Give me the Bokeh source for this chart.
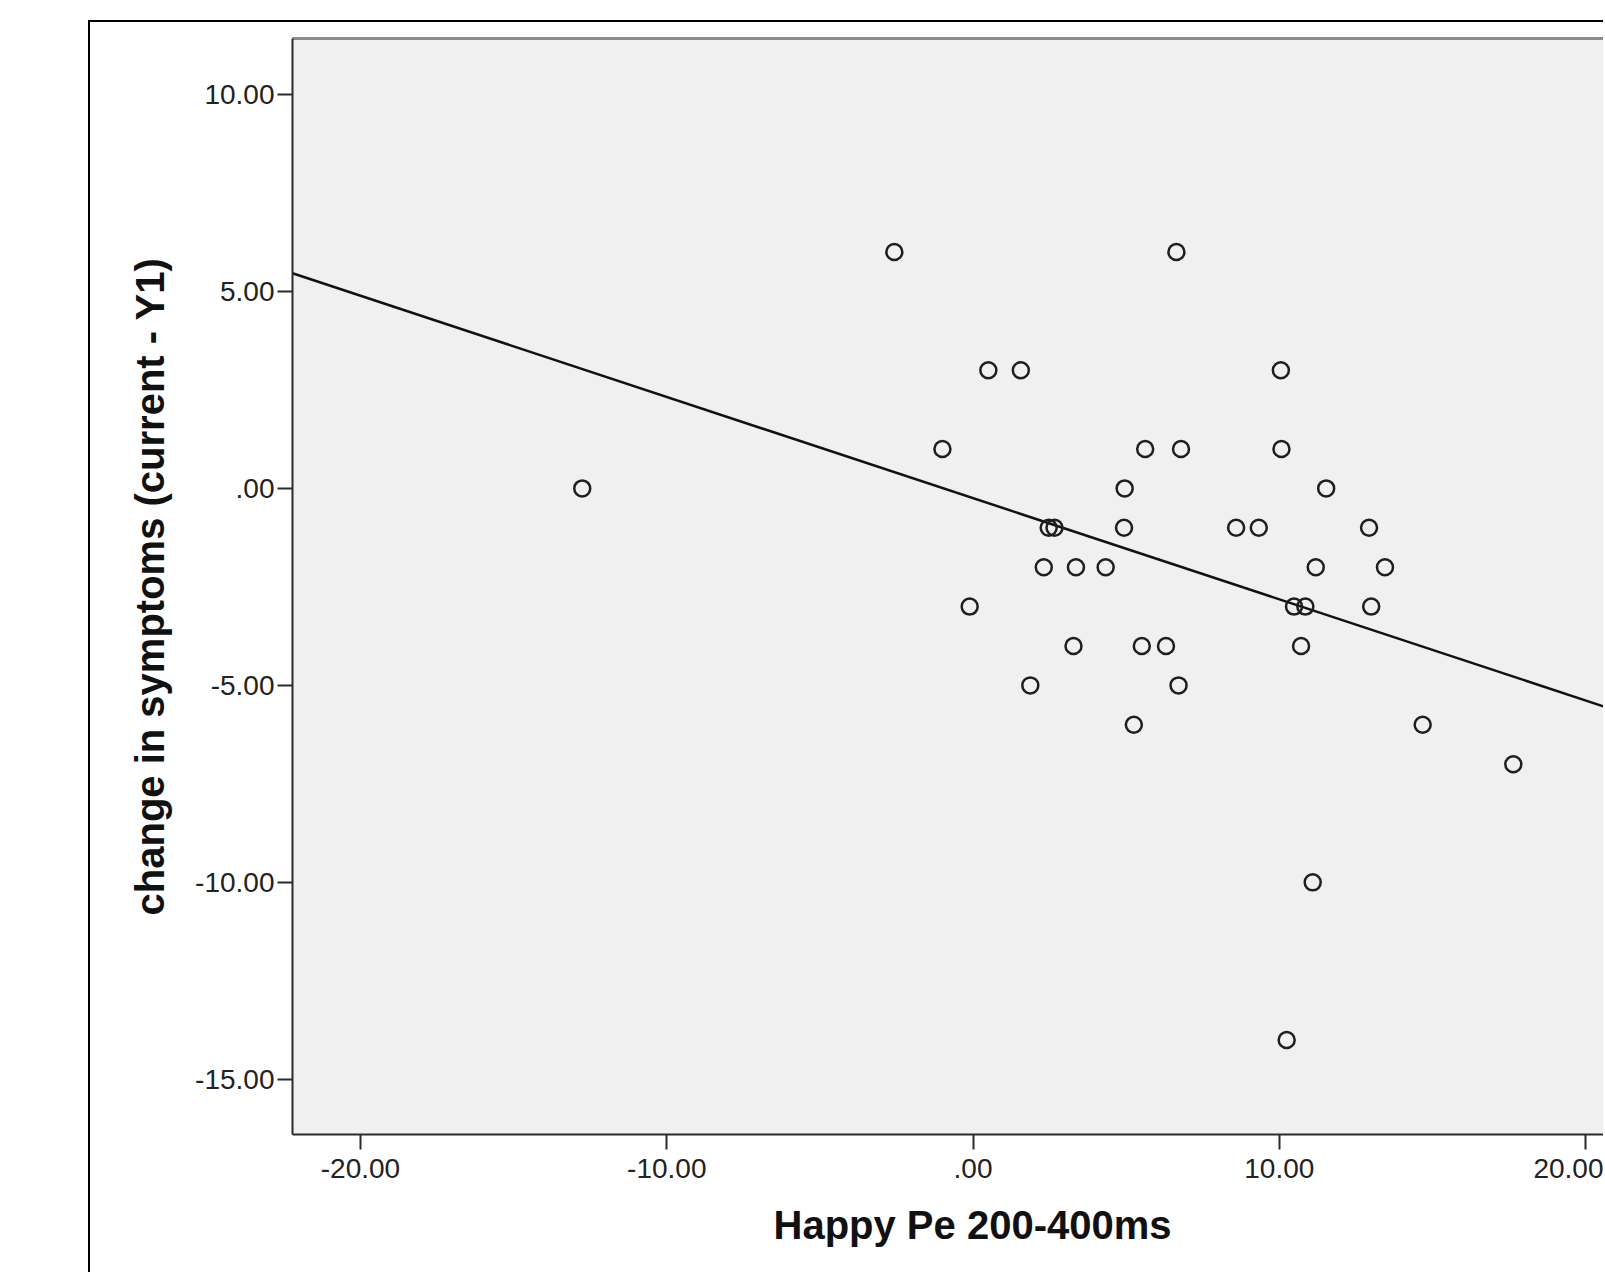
from bokeh.plotting import figure
from bokeh.models import (Range1d, FixedTicker, Title, LinearAxis, ColumnDataSource)
from bokeh.embed import file_html
from bokeh.resources import INLINE

# ---- data ----
happy_pe = [-2.57, 6.64,
            0.50, 1.56, 10.05,
            -1.00, 5.62, 6.79, 10.07,
            -12.76, 4.95, 11.53,
            2.47, 2.66, 4.93, 8.59, 9.33, 12.93,
            2.31, 3.36, 4.33, 11.19, 13.45,
            -0.11, 10.48, 10.85, 13.00,
            3.28, 5.51, 6.30, 10.71,
            1.87, 6.71,
            5.25, 14.68,
            17.64,
            11.09,
            10.24]
symptom_change = [6, 6,
                  3, 3, 3,
                  1, 1, 1, 1,
                  0, 0, 0,
                  -1, -1, -1, -1, -1, -1,
                  -2, -2, -2, -2, -2,
                  -3, -3, -3, -3,
                  -4, -4, -4, -4,
                  -5, -5,
                  -6, -6,
                  -7,
                  -10,
                  -14]
fit_x = [-22.22, 20.65]
fit_y = [5.46, -5.55]

x_ticks = [-20, -10, 0, 10, 20]
x_tick_labels = ["-20.00", "-10.00", ".00", "10.00", "20.00"]
y_ticks = [10, 5, 0, -5, -10, -15]
y_tick_labels = ["10.00", "5.00", ".00", "-5.00", "-10.00", "-15.00"]

x_title = "Happy Pe 200-400ms"
y_title = "change in symptoms (current - Y1)"

FONT = "Liberation Sans"
DARK = "#2b2b2b"

p = figure(width=1515, height=1252,
           x_range=Range1d(-22.22, 20.65), y_range=Range1d(-16.40, 11.42),
           output_backend="svg", toolbar_location=None,
           min_border_left=202, min_border_right=0,
           min_border_top=16, min_border_bottom=140,
           x_axis_location="below", y_axis_location="left")

# outer chart frame (left and top edges visible in the cropped original)
p.margin = (20, 0, 0, 88)
p.styles = {"border-left": "2px solid #000000", "border-top": "2px solid #000000"}

p.background_fill_color = "#f0f0f0"
p.border_fill_color = "white"
p.outline_line_color = None
p.xgrid.visible = False
p.ygrid.visible = False

# axes
for ax in (p.xaxis[0], p.yaxis[0]):
    ax.axis_line_color = DARK
    ax.axis_line_width = 2
    ax.major_tick_line_color = DARK
    ax.major_tick_line_width = 2
    ax.major_tick_out = 15
    ax.major_tick_in = 0
    ax.minor_tick_line_color = None
    ax.major_label_text_font = FONT
    ax.major_label_text_font_size = "28px"
    ax.major_label_text_color = "#222222"

p.xaxis[0].ticker = FixedTicker(ticks=x_ticks)
p.xaxis[0].major_label_overrides = {t: l for t, l in zip(x_ticks, x_tick_labels)}
p.xaxis[0].major_label_standoff = 9

p.yaxis[0].ticker = FixedTicker(ticks=y_ticks)
p.yaxis[0].major_label_overrides = {t: l for t, l in zip(y_ticks, y_tick_labels)}
p.yaxis[0].major_label_standoff = 3
p.yaxis[0].axis_label = y_title
p.yaxis[0].axis_label_text_font = FONT
p.yaxis[0].axis_label_text_font_style = "bold"
p.yaxis[0].axis_label_text_font_size = "40px"
p.yaxis[0].axis_label_text_color = "#111111"
p.yaxis[0].axis_label_standoff = 20

# top border of the plot area
top_ax = LinearAxis(axis_line_color="#8c8c8c", axis_line_width=3,
                    major_tick_line_color=None, minor_tick_line_color=None,
                    major_label_text_font_size="0px", ticker=FixedTicker(ticks=[]))
p.add_layout(top_ax, "above")

# regression line
p.line(fit_x, fit_y, line_color="#111111", line_width=2.5)

# points
src = ColumnDataSource(data=dict(x=happy_pe, y=symptom_change))
p.scatter("x", "y", source=src, marker="circle", size=16,
          fill_color=None, line_color="#1e1e1e", line_width=2.5)

# x axis title (positioned as in the original, wider plot area)
p.add_layout(Title(text=x_title, align="left", offset=481, standoff=40,
                   text_font=FONT, text_font_style="bold",
                   text_font_size="40px", text_color="#111111"), "below")

open("out.html", "w").write(file_html(p, INLINE))
